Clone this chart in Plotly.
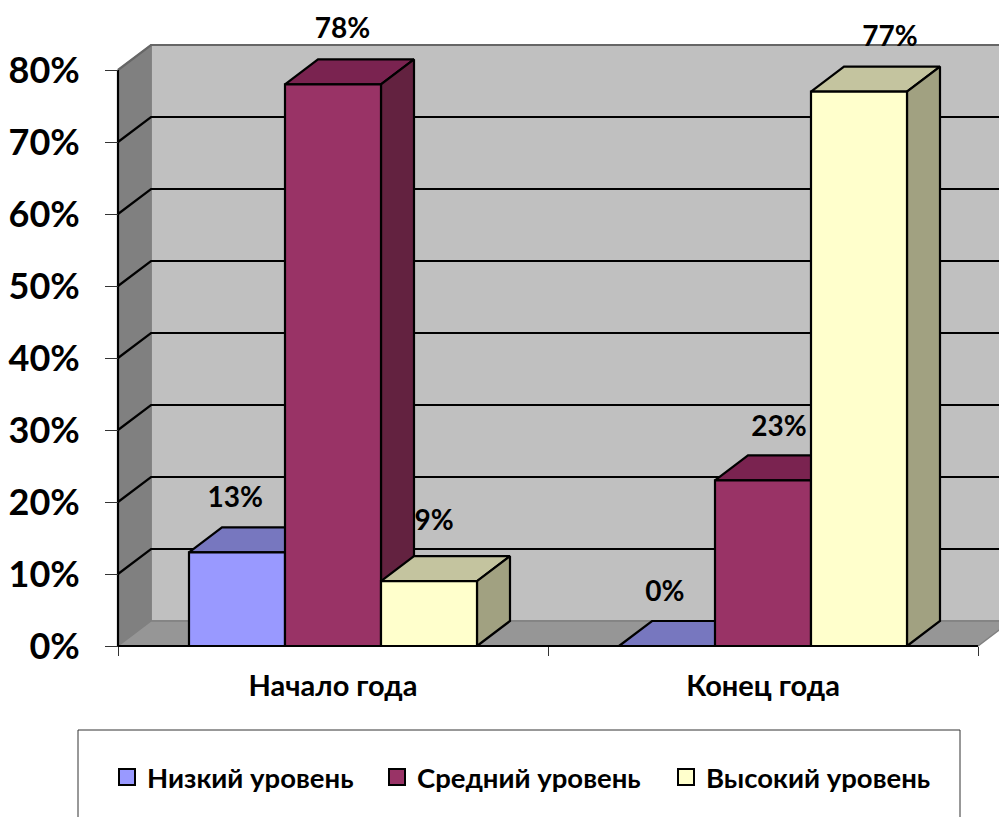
import plotly.graph_objects as go

categories = ["Начало года", "Конец года"]
series_names = ["Низкий уровень", "Средний уровень", "Высокий уровень"]
low_values = [13, 0]
mid_values = [78, 23]
high_values = [9, 77]
y_ticks = [0, 10, 20, 30, 40, 50, 60, 70, 80]
y_tick_labels = ["0%", "10%", "20%", "30%", "40%", "50%", "60%", "70%", "80%"]

W, H = 999, 817
X0, CAT_PX = 118, 430
Y0, PCT_PX = 646, 7.2
DX, DY = 33 / CAT_PX, 25 / PCT_PX
BAR_W = 96 / CAT_PX
FONT = "Lato"
LW = 2.2

front = ["#9999FF", "#993366", "#FFFFCC"]
top = ["#7777BF", "#7A2350", "#C4C49F"]
side = ["#6B6BA8", "#632240", "#A1A181"]
legend_widths = [225, 244, 240]
series = [low_values, mid_values, high_values]
label_dx = [[-0.004, 0.022, 0.012], [-0.005, 0.037, 0.072]]
label_dy = [[7.3, 7.46, 8.1], [7.2, 7.2, 7.3]]

fig = go.Figure()


def poly(xs, ys, fill, line="black", width=LW):
    fig.add_trace(go.Scatter(
        x=xs + xs[:1], y=ys + ys[:1], mode="lines", fill="toself",
        fillcolor=fill, line=dict(color=line, width=width),
        showlegend=False, hoverinfo="skip"))


def segment(xs, ys, color="black", width=LW):
    fig.add_trace(go.Scatter(
        x=xs, y=ys, mode="lines", line=dict(color=color, width=width),
        showlegend=False, hoverinfo="skip"))


x_end = len(categories)
y_top = y_ticks[-1]
# Back wall, side wall, floor
poly([DX, x_end + DX, x_end + DX, DX], [DY, DY, y_top + DY, y_top + DY], "#C0C0C0", "#808080", 1.5)
poly([0, DX, DX, 0], [0, DY, y_top + DY, y_top], "#808080", "#808080", 1.5)
poly([0, x_end, x_end + DX, DX], [0, 0, DY, DY], "#969696", "#808080", 1.5)
# Gridlines
for t in y_ticks[1:]:
    col = "#666666" if t == y_top else "black"
    segment([0, DX, x_end + DX], [t, t + DY, t + DY], col)

# Bars
for c in range(len(categories)):
    for s, vals in enumerate(series):
        v = vals[c]
        left = c + 0.5 + (s - 1.5) * BAR_W
        right = left + BAR_W
        poly([left, right, right + DX, left + DX], [v, v, v + DY, v + DY], top[s])
        poly([right, right + DX, right + DX, right], [0, DY, v + DY, v], side[s])
        poly([left, right, right, left], [0, 0, v, v], front[s])

# Axis lines
segment([0, 0], [0, y_top])
segment([0, x_end], [0, 0])

# Data labels
lx, ly, lt = [], [], []
for c in range(len(categories)):
    for s, vals in enumerate(series):
        lx.append(c + 0.5 + (s - 1) * BAR_W + label_dx[c][s])
        ly.append(vals[c] + label_dy[c][s])
        lt.append(f"{vals[c]}%")
fig.add_trace(go.Scatter(
    x=lx, y=ly, text=lt, mode="text", textposition="middle center",
    textfont=dict(family=FONT, size=28, color="black", weight="bold"),
    showlegend=False, hoverinfo="skip", cliponaxis=False))

# Legend entries
for s, name in enumerate(series_names):
    fig.add_trace(go.Scatter(
        x=[None], y=[None], mode="markers", name=name, legendwidth=legend_widths[s],
        marker=dict(symbol="square", size=16, color=front[s],
                    line=dict(color="black", width=2))))

fig.update_layout(
    width=W, height=H, autosize=False,
    margin=dict(l=0, r=0, t=0, b=0),
    paper_bgcolor="white", plot_bgcolor="white",
    font=dict(family=FONT, color="black"),
    xaxis=dict(
        range=[-X0 / CAT_PX, (W - X0) / CAT_PX],
        domain=[0, 1], anchor="free", position=(H - Y0) / H,
        tickmode="array", tickvals=[0.5, 1.5], ticktext=categories,
        ticks="", showgrid=False, zeroline=False, showline=False,
        ticklabelstandoff=20,
        tickfont=dict(family=FONT, size=29, weight="bold"),
        minor=dict(tickmode="array", tickvals=[0, 1, 2], ticks="outside",
                   ticklen=9, tickcolor="#333333", tickwidth=1, showgrid=False),
    ),
    yaxis=dict(
        range=[(Y0 - H) / PCT_PX, Y0 / PCT_PX],
        domain=[0, 1], anchor="free", position=X0 / W,
        tickmode="array", tickvals=y_ticks, ticktext=y_tick_labels,
        ticks="outside", ticklen=13, tickcolor="#333333", tickwidth=1,
        showgrid=False, zeroline=False, showline=False,
        ticklabelstandoff=18,
        tickfont=dict(family=FONT, size=36, weight="bold"),
    ),
    shapes=[dict(type="rect", xref="paper", yref="paper",
                 x0=78 / W, x1=960 / W, y0=-0.01, y1=(H - 730) / H,
                 line=dict(color="#333333", width=1), fillcolor="white", layer="below")],
    legend=dict(
        orientation="h", x=107 / W, xanchor="left", y=(H - 777) / H, yanchor="middle",
        bgcolor="rgba(0,0,0,0)", borderwidth=0,
        font=dict(family=FONT, size=27.5, weight="bold", color="black"),
        itemclick=False, itemdoubleclick=False,
        traceorder="normal",
    ),
)

fig.write_html("out.html", config=dict(displayModeBar=False),
               post_script="document.body.style.margin='0';document.documentElement.style.overflow='hidden';")
